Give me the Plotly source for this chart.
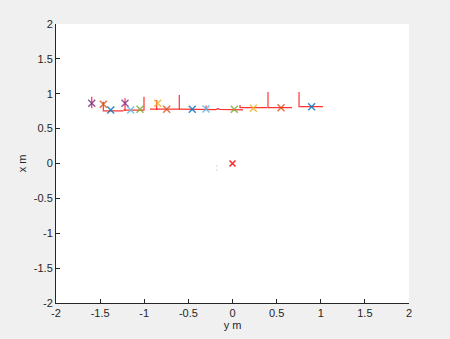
import plotly.graph_objects as go

# Marker data (horizontal = "y m", vertical = "x m")
mk_y = [-1.595, -1.464, -1.380, -1.218, -1.154, -1.048, -0.848, -0.746,
        -0.456, -0.300, 0.020, 0.236, 0.550, 0.897]
mk_x = [0.863, 0.849, 0.767, 0.863, 0.767, 0.777, 0.863, 0.777,
        0.777, 0.781, 0.777, 0.791, 0.800, 0.814]
mk_colors = ["#7e2f8e", "#d95319", "#0072bd", "#7e2f8e", "#4dbeee", "#77ac30",
             "#edb120", "#d95319", "#0072bd", "#4dbeee", "#77ac30", "#edb120",
             "#d95319", "#0072bd"]

origin_y = [0.0]
origin_x = [0.0]

faint_y = [-0.179, -0.179]
faint_x = [-0.036, -0.093]

# Red polylines
lines = [
    ([-1.595, -1.595], [0.957, 0.791]),
    ([-1.464, -1.464, -1.237], [0.886, 0.755, 0.755]),
    ([-1.218, -1.218], [0.935, 0.755]),
    ([-1.237, -1.003, -1.003], [0.765, 0.765, 0.957]),
    ([-0.935, -0.603, -0.603], [0.780, 0.780, 0.982]),
    ([-0.859, -0.859], [0.910, 0.767]),
    ([-0.300, -0.300], [0.830, 0.778]),
    ([-0.603, -0.221, -0.190, -0.164, -0.142, 0.119], [0.781, 0.781, 0.772, 0.785, 0.777, 0.770]),
    ([0.085, 0.085, 0.391], [0.839, 0.800, 0.800]),
    ([0.402, 0.402, 0.674], [1.025, 0.800, 0.800]),
    ([0.754, 0.754, 1.025], [1.025, 0.814, 0.814]),
]

tick_vals = [-2, -1.5, -1, -0.5, 0, 0.5, 1, 1.5, 2]
tick_text = ["-2", "-1.5", "-1", "-0.5", "0", "0.5", "1", "1.5", "2"]

fig = go.Figure()

for ly, lx in lines:
    fig.add_trace(go.Scatter(x=ly, y=lx, mode="lines",
                             line=dict(color="rgba(255,0,0,0.8)", width=1.2),
                             showlegend=False, hoverinfo="skip"))

fig.add_trace(go.Scatter(x=mk_y, y=mk_x, mode="markers",
                         marker=dict(symbol="x-thin", size=7, opacity=0.8,
                                     line=dict(color=mk_colors, width=1.5)),
                         showlegend=False))

fig.add_trace(go.Scatter(x=faint_y, y=faint_x, mode="markers",
                         marker=dict(symbol="circle", size=2, color="#eadcf0"),
                         showlegend=False))

fig.add_trace(go.Scatter(x=origin_y, y=origin_x, mode="markers",
                         marker=dict(symbol="x-thin", size=6,
                                     line=dict(color="rgba(255,0,0,0.85)", width=1.5)),
                         showlegend=False))

font = dict(family="Liberation Sans, Arial", size=11, color="#262626")
axis_common = dict(range=[-2, 2], tickmode="array", tickvals=tick_vals, ticktext=tick_text,
                   showgrid=False, zeroline=False, showline=True, linecolor="#262626",
                   linewidth=1, ticks="inside", ticklen=4, tickcolor="#262626",
                   tickfont=font, mirror=False, automargin=False)

fig.update_layout(
    width=450, height=339,
    margin=dict(l=56, r=41, t=24, b=36),
    paper_bgcolor="#f0f0f0", plot_bgcolor="#ffffff",
    xaxis=dict(**axis_common, title=dict(text="y m", standoff=2, font=font)),
    yaxis=dict(**axis_common, title=dict(text="x m", standoff=4, font=font)),
)

fig.write_html("out.html")
